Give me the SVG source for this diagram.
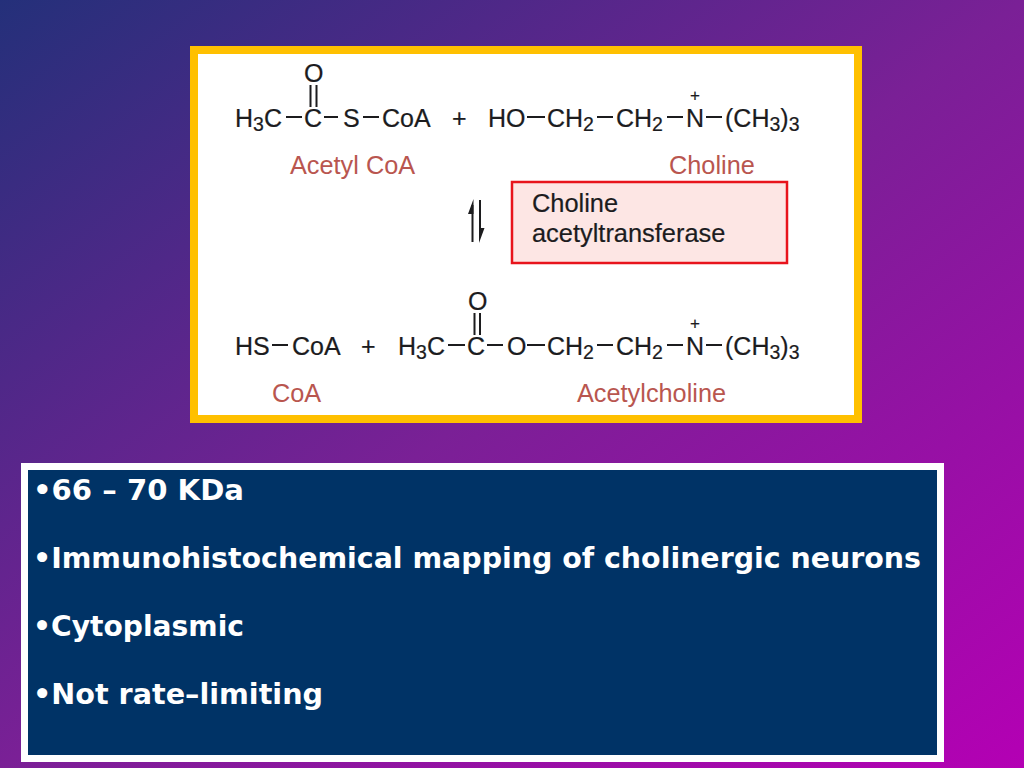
<svg xmlns="http://www.w3.org/2000/svg" width="1024" height="768" viewBox="0 0 1024 768">
<style>
.c{font-family:"Liberation Sans",Arial,sans-serif;font-size:25px;fill:#1c1c1e;stroke:#1c1c1e;stroke-width:.2}
.s{font-size:19.500px}
.p{font-size:17px}
.e{font-size:25.400px}
.l{font-family:"Liberation Sans",Arial,sans-serif;font-size:25.300px;fill:#b9564f}
.b{font-family:"DejaVu Sans",Verdana,sans-serif;font-weight:bold;font-size:27.500px;fill:#fff}
.k{stroke:#1c1c1e;stroke-width:2;fill:none}
</style>
<defs>
<linearGradient id="bg" x1="0" y1="0" x2="1" y2="1">
<stop offset="0" stop-color="#24307a"/>
<stop offset="0.5" stop-color="#7a2096"/>
<stop offset="1" stop-color="#b400b4"/>
</linearGradient>
</defs>
<rect width="1024" height="768" fill="url(#bg)"/>
<g id="reaction-frame"><rect x="194" y="50" width="664" height="369" fill="#fff" stroke="#ffc000" stroke-width="8"/></g>
<g id="connectors">
<path class="k" d="M286 117H302M324 117H338M363 117H379M310.500 85V107M316.500 85V107M527 117H545M597 117H613M667 117H683M706 117H722"/>
<path class="k" d="M272 345H288M448 345H465M487 345H503M527 345H545M597 345H613M667 345H683M706 345H722M474.500 313V335M480 313V335"/>
<path class="k" d="M472.500 242V205M480 200V236"/>
<path d="M473.500 199L468 214H473.500ZM479 243L484.500 228H479Z" fill="#1c1c1e"/>
</g>
<g id="acetyl-coa"><text class="c" x="235" y="127">H<tspan class="s" dy="4">3</tspan><tspan dy="-4">C</tspan></text><text class="c" x="304" y="127">C</text><text class="c" x="304" y="82">O</text><text class="c" x="343" y="127">S</text><text class="c" x="382" y="127">CoA</text><text class="l" x="290" y="174">Acetyl CoA</text></g>
<g id="plus-top"><text class="c" x="452" y="127">+</text></g>
<g id="choline"><text class="c" x="488" y="127">HO</text><text class="c" x="547" y="127">CH<tspan class="s" dy="4">2</tspan></text><text class="c" x="616" y="127">CH<tspan class="s" dy="4">2</tspan></text><text class="c" x="686" y="127">N</text><text class="c p" x="690" y="101">+</text><text class="c" x="725" y="127">(CH<tspan class="s" dy="4">3</tspan><tspan dy="-4">)</tspan><tspan class="s" dy="4">3</tspan></text><text class="l" x="669" y="174">Choline</text></g>
<g id="enzyme"><rect x="512" y="182" width="275" height="81" fill="#fde6e4" stroke="#e8141c" stroke-width="2.500"/><text class="c e" x="532" y="212">Choline</text><text class="c e" x="532" y="242">acetyltransferase</text></g>
<g id="coa"><text class="c" x="235" y="355">HS</text><text class="c" x="292" y="355">CoA</text><text class="l" x="272" y="402">CoA</text></g>
<g id="plus-bottom"><text class="c" x="361" y="355">+</text></g>
<g id="acetylcholine"><text class="c" x="398" y="355">H<tspan class="s" dy="4">3</tspan><tspan dy="-4">C</tspan></text><text class="c" x="467" y="355">C</text><text class="c" x="468" y="310">O</text><text class="c" x="507" y="355">O</text><text class="c" x="547" y="355">CH<tspan class="s" dy="4">2</tspan></text><text class="c" x="616" y="355">CH<tspan class="s" dy="4">2</tspan></text><text class="c" x="686" y="355">N</text><text class="c p" x="690" y="329">+</text><text class="c" x="725" y="355">(CH<tspan class="s" dy="4">3</tspan><tspan dy="-4">)</tspan><tspan class="s" dy="4">3</tspan></text><text class="l" x="577" y="402">Acetylcholine</text></g>
<g id="facts"><rect x="24.500" y="466.500" width="916" height="292" fill="#003366" stroke="#fff" stroke-width="7"/>
<text class="b" x="33" y="500" textLength="211" lengthAdjust="spacingAndGlyphs">•66 – 70 KDa</text>
<text class="b" x="33" y="568" textLength="888" lengthAdjust="spacingAndGlyphs">•Immunohistochemical mapping of cholinergic neurons</text>
<text class="b" x="33" y="636" textLength="211" lengthAdjust="spacingAndGlyphs">•Cytoplasmic</text>
<text class="b" x="33" y="704" textLength="290" lengthAdjust="spacingAndGlyphs">•Not rate–limiting</text></g>
</svg>
